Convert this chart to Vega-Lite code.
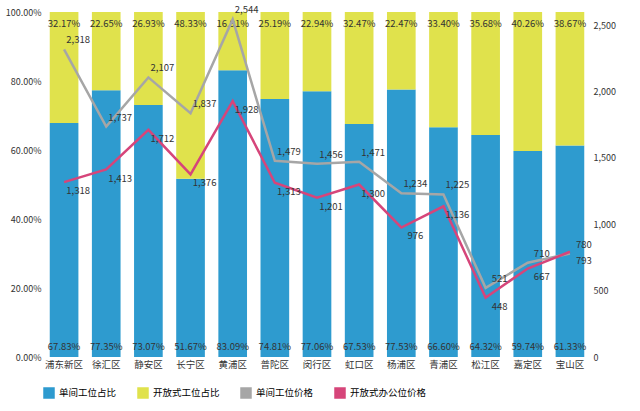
{
  "$schema": "https://vega.github.io/schema/vega-lite/v6.json",
  "width": 548,
  "height": 345,
  "background": "white",
  "config": {"font": "Noto Sans CJK SC", "view": {"stroke": null}, "axis": {"labelFontSize": 9, "labelColor": "#333", "domain": false, "ticks": false, "grid": false}},
  "datasets": {
    "bars": [
      {"d": "浦东新区", "s": "单间工位占比", "o": 1, "v": 67.83},
      {"d": "徐汇区", "s": "单间工位占比", "o": 1, "v": 77.35},
      {"d": "静安区", "s": "单间工位占比", "o": 1, "v": 73.07},
      {"d": "长宁区", "s": "单间工位占比", "o": 1, "v": 51.67},
      {"d": "黄浦区", "s": "单间工位占比", "o": 1, "v": 83.09},
      {"d": "普陀区", "s": "单间工位占比", "o": 1, "v": 74.81},
      {"d": "闵行区", "s": "单间工位占比", "o": 1, "v": 77.06},
      {"d": "虹口区", "s": "单间工位占比", "o": 1, "v": 67.53},
      {"d": "杨浦区", "s": "单间工位占比", "o": 1, "v": 77.53},
      {"d": "青浦区", "s": "单间工位占比", "o": 1, "v": 66.60},
      {"d": "松江区", "s": "单间工位占比", "o": 1, "v": 64.32},
      {"d": "嘉定区", "s": "单间工位占比", "o": 1, "v": 59.74},
      {"d": "宝山区", "s": "单间工位占比", "o": 1, "v": 61.33},
      {"d": "浦东新区", "s": "开放式工位占比", "o": 2, "v": 32.17},
      {"d": "徐汇区", "s": "开放式工位占比", "o": 2, "v": 22.65},
      {"d": "静安区", "s": "开放式工位占比", "o": 2, "v": 26.93},
      {"d": "长宁区", "s": "开放式工位占比", "o": 2, "v": 48.33},
      {"d": "黄浦区", "s": "开放式工位占比", "o": 2, "v": 16.91},
      {"d": "普陀区", "s": "开放式工位占比", "o": 2, "v": 25.19},
      {"d": "闵行区", "s": "开放式工位占比", "o": 2, "v": 22.94},
      {"d": "虹口区", "s": "开放式工位占比", "o": 2, "v": 32.47},
      {"d": "杨浦区", "s": "开放式工位占比", "o": 2, "v": 22.47},
      {"d": "青浦区", "s": "开放式工位占比", "o": 2, "v": 33.40},
      {"d": "松江区", "s": "开放式工位占比", "o": 2, "v": 35.68},
      {"d": "嘉定区", "s": "开放式工位占比", "o": 2, "v": 40.26},
      {"d": "宝山区", "s": "开放式工位占比", "o": 2, "v": 38.67}
    ],
    "lines": [
      {"d": "浦东新区", "s": "单间工位价格", "p": 2318},
      {"d": "徐汇区", "s": "单间工位价格", "p": 1737},
      {"d": "静安区", "s": "单间工位价格", "p": 2107},
      {"d": "长宁区", "s": "单间工位价格", "p": 1837},
      {"d": "黄浦区", "s": "单间工位价格", "p": 2544},
      {"d": "普陀区", "s": "单间工位价格", "p": 1479},
      {"d": "闵行区", "s": "单间工位价格", "p": 1456},
      {"d": "虹口区", "s": "单间工位价格", "p": 1471},
      {"d": "杨浦区", "s": "单间工位价格", "p": 1234},
      {"d": "青浦区", "s": "单间工位价格", "p": 1225},
      {"d": "松江区", "s": "单间工位价格", "p": 521},
      {"d": "嘉定区", "s": "单间工位价格", "p": 710},
      {"d": "宝山区", "s": "单间工位价格", "p": 780},
      {"d": "浦东新区", "s": "开放式办公位价格", "p": 1318},
      {"d": "徐汇区", "s": "开放式办公位价格", "p": 1413},
      {"d": "静安区", "s": "开放式办公位价格", "p": 1712},
      {"d": "长宁区", "s": "开放式办公位价格", "p": 1376},
      {"d": "黄浦区", "s": "开放式办公位价格", "p": 1928},
      {"d": "普陀区", "s": "开放式办公位价格", "p": 1313},
      {"d": "闵行区", "s": "开放式办公位价格", "p": 1201},
      {"d": "虹口区", "s": "开放式办公位价格", "p": 1300},
      {"d": "杨浦区", "s": "开放式办公位价格", "p": 976},
      {"d": "青浦区", "s": "开放式办公位价格", "p": 1136},
      {"d": "松江区", "s": "开放式办公位价格", "p": 448},
      {"d": "嘉定区", "s": "开放式办公位价格", "p": 667},
      {"d": "宝山区", "s": "开放式办公位价格", "p": 793}
    ]
  },
  "encoding": {
    "x": {"field": "d", "type": "nominal", "sort": null, "title": null, "scale": {"paddingInner": 0.32, "paddingOuter": 0.16}, "axis": {"labelAngle": 0, "labelFontSize": 9.5}}
  },
  "layer": [
    {
      "data": {"name": "bars"},
      "layer": [
        {
          "mark": {"type": "bar"},
          "encoding": {
            "y": {"field": "v", "type": "quantitative", "stack": "zero", "scale": {"domain": [0, 100]}, "title": null, "axis": {"values": [0, 20, 40, 60, 80, 100], "labelExpr": "format(datum.value, '.2f') + '%'"}},
            "order": {"field": "o"},
            "color": {"field": "s", "type": "nominal", "title": null, "scale": {"domain": ["单间工位占比", "开放式工位占比", "单间工位价格", "开放式办公位价格"], "range": ["#2e9bcf", "#e0e24c", "#a6a6a6", "#d6457a"]}, "legend": {"orient": "bottom", "direction": "horizontal", "labelFontSize": 9.5, "symbolType": "square", "columnPadding": 18}}
          }
        },
        {
          "transform": [{"filter": "datum.o == 1"}, {"calculate": "format(datum.v, '.2f') + '%'", "as": "lab"}],
          "mark": {"type": "text", "fontSize": 9.5, "color": "#333", "dy": -10},
          "encoding": {"y": {"datum": 0, "type": "quantitative"}, "text": {"field": "lab"}}
        },
        {
          "transform": [{"filter": "datum.o == 2"}, {"calculate": "format(datum.v, '.2f') + '%'", "as": "lab"}],
          "mark": {"type": "text", "fontSize": 9.5, "color": "#333", "dy": 12},
          "encoding": {"y": {"datum": 100, "type": "quantitative"}, "text": {"field": "lab"}}
        }
      ]
    },
    {
      "data": {"name": "lines"},
      "layer": [
        {
          "mark": {"type": "line", "strokeWidth": 2.5, "clip": false},
          "encoding": {
            "y": {"field": "p", "type": "quantitative", "scale": {"domain": [0, 2500]}, "title": null, "axis": {"orient": "right", "values": [0, 500, 1000, 1500, 2000, 2500], "labelExpr": "format(datum.value, ',')"}},
            "color": {"field": "s", "type": "nominal", "legend": null}
          }
        },
        {
          "transform": [{"filter": "datum.s == '单间工位价格'"}, {"calculate": "format(datum.p, ',')", "as": "lab"}],
          "mark": {"type": "text", "fontSize": 9.5, "color": "#333", "dx": 14, "dy": -9},
          "encoding": {"y": {"field": "p", "type": "quantitative"}, "text": {"field": "lab"}}
        },
        {
          "transform": [{"filter": "datum.s == '开放式办公位价格'"}, {"calculate": "format(datum.p, ',')", "as": "lab"}],
          "mark": {"type": "text", "fontSize": 9.5, "color": "#333", "dx": 14, "dy": 9},
          "encoding": {"y": {"field": "p", "type": "quantitative"}, "text": {"field": "lab"}}
        }
      ]
    }
  ],
  "resolve": {"scale": {"y": "independent"}}
}
